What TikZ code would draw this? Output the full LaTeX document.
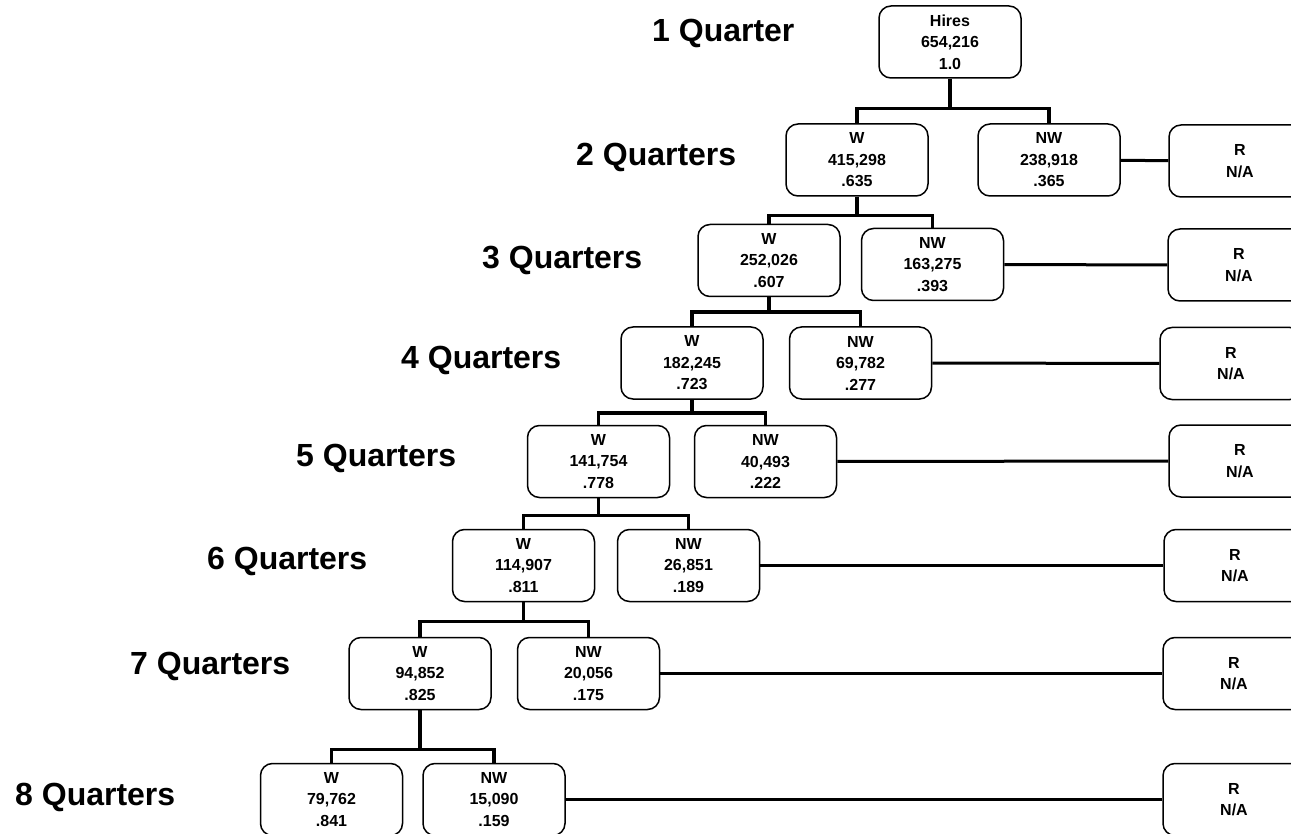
\documentclass[tikz,border=0pt]{standalone}
\usepackage{fontspec}
\setmainfont{Liberation Sans}
\begin{document}
\begin{tikzpicture}[x=1pt, y=-1pt,
		cell/.style={draw, rounded corners=12pt, line width=1.5pt, minimum width=142pt, minimum height=72pt, inner sep=0pt, align=center, font=\fontsize{16}{21.5}\selectfont\bfseries},
		qlabel/.style={anchor=base west, inner sep=0pt, font=\fontsize{32}{38}\selectfont\bfseries},
		link/.style={line width=3.5pt},
		rlink/.style={line width=3pt}]
				\useasboundingbox (0,0) rectangle (1291,834);
				\clip (0,0) rectangle (1291,834);
				
				% quarter labels
				\node (q1) at (652,42) [qlabel] {1 Quarter};
				\node (q2) at (576,166) [qlabel] {2 Quarters};
				\node (q3) at (482,269) [qlabel] {3 Quarters};
				\node (q4) at (401,369) [qlabel] {4 Quarters};
				\node (q5) at (296,466) [qlabel] {5 Quarters};
				\node (q6) at (207,569) [qlabel] {6 Quarters};
				\node (q7) at (130,674) [qlabel] {7 Quarters};
				\node (q8) at (15,805) [qlabel] {8 Quarters};
				
				% boxes
				\node (hires) at (950,42) [cell] {Hires\\654,216\\1.0};
				\node (w2) at (857,160) [cell] {W\\415,298\\.635};
				\node (nw2) at (1049,160) [cell] {NW\\238,918\\.365};
				\node (r2) at (1240,161) [cell] {R\\N/A};
				\node (w3) at (769,260.5) [cell] {W\\252,026\\.607};
				\node (nw3) at (932.5,264.5) [cell] {NW\\163,275\\.393};
				\node (r3) at (1239,265) [cell] {R\\N/A};
				\node (w4) at (692,363) [cell] {W\\182,245\\.723};
				\node (nw4) at (860.5,363) [cell] {NW\\69,782\\.277};
				\node (r4) at (1231,363.5) [cell] {R\\N/A};
				\node (w5) at (598.5,461.5) [cell] {W\\141,754\\.778};
				\node (nw5) at (765.5,461.5) [cell] {NW\\40,493\\.222};
				\node (r5) at (1240,461) [cell] {R\\N/A};
				\node (w6) at (523.5,565.5) [cell] {W\\114,907\\.811};
				\node (nw6) at (688.5,565.5) [cell] {NW\\26,851\\.189};
				\node (r6) at (1235,565.5) [cell] {R\\N/A};
				\node (w7) at (420,673.5) [cell] {W\\94,852\\.825};
				\node (nw7) at (588.5,673.5) [cell] {NW\\20,056\\.175};
				\node (r7) at (1234,673.5) [cell] {R\\N/A};
				\node (w8) at (331.5,799.5) [cell] {W\\79,762\\.841};
				\node (nw8) at (494,799.5) [cell] {NW\\15,090\\.159};
				\node (r8) at (1234,799.5) [cell] {R\\N/A};
				
				% tree links
				\path (hires.south) ++(0,30) coordinate (j1);
				\path (w2.south) ++(0,19) coordinate (j2);
				\path (w3.south) ++(0,15) coordinate (j3);
				\path (w4.south) ++(0,13) coordinate (j4);
				\path (w5.south) ++(0,17) coordinate (j5);
				\path (w6.south) ++(0,19) coordinate (j6);
				\path (w7.south) ++(0,39) coordinate (j7);
				\draw[link] (hires) -- (j1);
				\draw[link] (w2) |- (j1) -| (nw2);
				\draw[link] (w2) -- (j2);
				\draw[link] (w3) |- (j2) -| (nw3);
				\draw[link] (w3) -- (j3);
				\draw[link] (w4) |- (j3) -| (nw4);
				\draw[link] (w4) -- (j4);
				\draw[link] (w5) |- (j4) -| (nw5);
				\draw[link] (w5) -- (j5);
				\draw[link] (w6) |- (j5) -| (nw6);
				\draw[link] (w6) -- (j6);
				\draw[link] (w7) |- (j6) -| (nw7);
				\draw[link] (w7) -- (j7);
				\draw[link] (w8) |- (j7) -| (nw8);
				
				% links to R
				\draw[rlink] (nw2) -- (r2);
				\draw[rlink] (nw3) -- (r3);
				\draw[rlink] (nw4) -- (r4);
				\draw[rlink] (nw5) -- (r5);
				\draw[rlink] (nw6) -- (r6);
				\draw[rlink] (nw7) -- (r7);
				\draw[rlink] (nw8) -- (r8);
			\end{tikzpicture}
\end{document}
